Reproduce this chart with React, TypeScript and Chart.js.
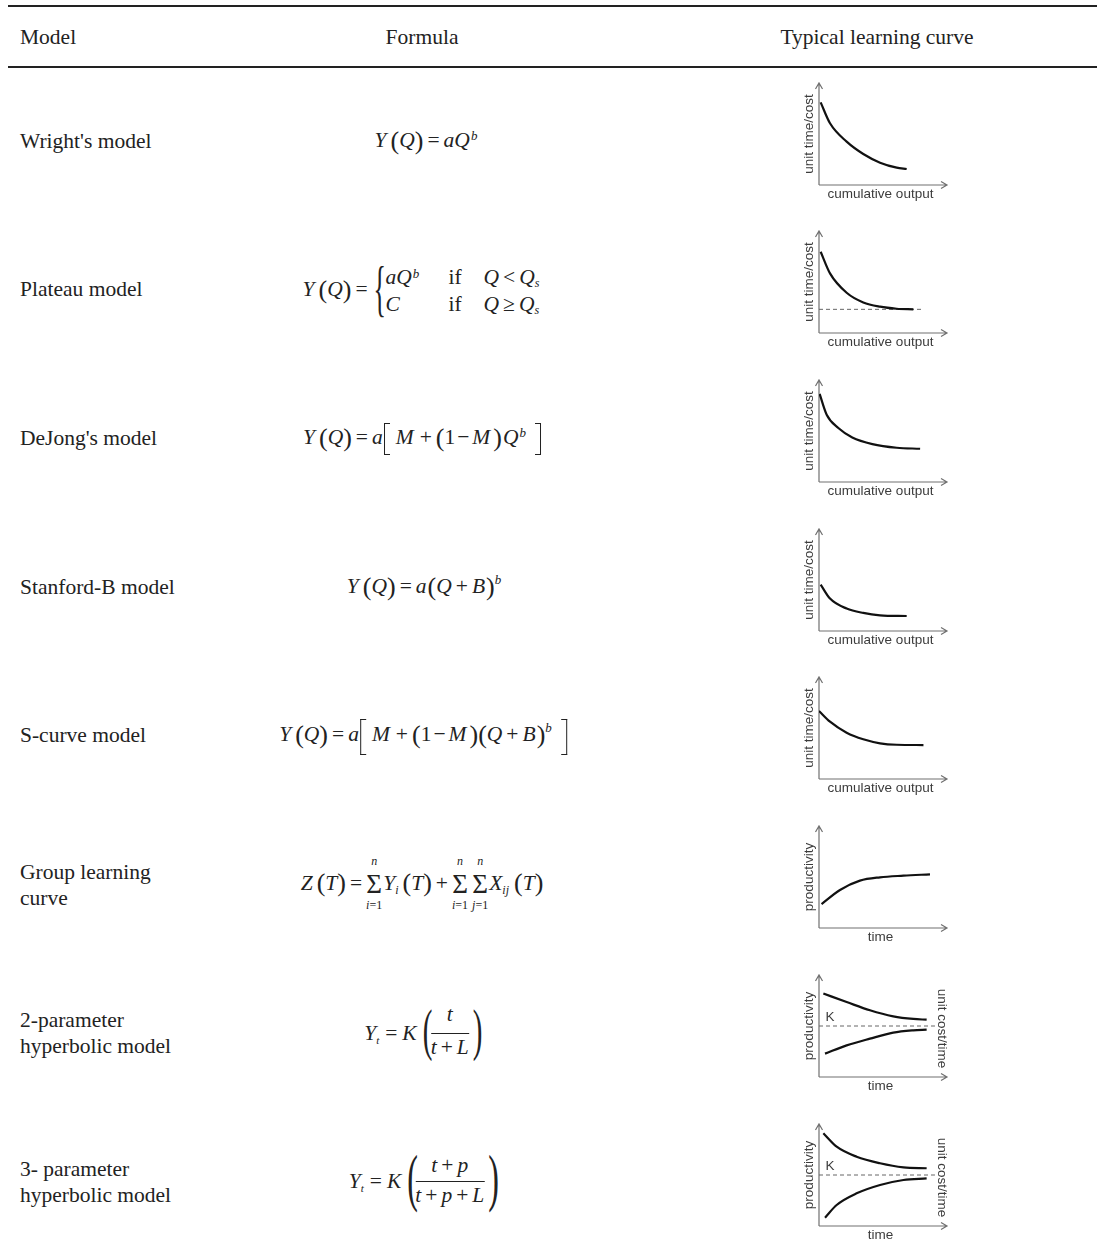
import React, { useEffect, useRef } from "react";
import { Chart, registerables } from "chart.js";

Chart.register(...registerables);

// ---------- DATA ----------
const headerLabels = ["Model", "Formula", "Typical learning curve"];
const modelLabels = [
  ["Wright's model"],
  ["Plateau model"],
  ["DeJong's model"],
  ["Stanford-B model"],
  ["S-curve model"],
  ["Group learning", "curve"],
  ["2-parameter", "hyperbolic model"],
  ["3- parameter", "hyperbolic model"],
];
const xAxisLabels = ["cumulative output", "cumulative output", "cumulative output", "cumulative output", "cumulative output", "time", "time", "time"];
const yAxisLabels = ["unit time/cost", "unit time/cost", "unit time/cost", "unit time/cost", "unit time/cost", "productivity", "productivity", "productivity"];
const rightAxisLabels = ["", "", "", "", "", "", "unit cost/time", "unit cost/time"];
const asymptoteLabels = ["", "", "", "", "", "", "K", "K"];

const wrightX = [0.13, 0.86, 2.16, 3.46, 4.77, 6.07, 6.85];
const wrightY = [8.1, 6.05, 4.25, 3.04, 2.19, 1.7, 1.57];

const plateauX = [0.13, 0.86, 2.16, 3.46, 4.77, 6.07, 7.37];
const plateauY = [7.97, 5.85, 3.95, 3.0, 2.58, 2.38, 2.32];
const plateauLevel = 2.32;
const plateauLevelSpan = [0, 8.1];

const dejongX = [0.05, 0.6, 1.51, 2.6, 4.17, 6.07, 7.9];
const dejongY = [8.63, 6.6, 5.29, 4.37, 3.72, 3.36, 3.26];

const stanfordX = [0.13, 0.86, 2.16, 3.46, 4.77, 6.85];
const stanfordY = [4.55, 3.18, 2.2, 1.77, 1.54, 1.47];

const scurveX = [0.0, 0.86, 2.16, 3.46, 4.77, 6.07, 8.16];
const scurveY = [6.67, 5.62, 4.54, 3.89, 3.5, 3.36, 3.33];

const groupX = [0.2, 1.64, 3.2, 4.77, 6.6, 8.67];
const groupY = [2.35, 3.73, 4.64, 4.97, 5.13, 5.26];

const hyp2UpperX = [0.34, 2.16, 3.98, 5.8, 7.37, 8.41];
const hyp2UpperY = [8.18, 7.35, 6.54, 5.95, 5.69, 5.62];
const hyp2LowerX = [0.47, 2.16, 3.98, 5.8, 7.37, 8.41];
const hyp2LowerY = [2.29, 3.1, 3.76, 4.35, 4.58, 4.65];

const hyp3UpperX = [0.34, 1.38, 2.94, 4.77, 6.6, 8.41];
const hyp3UpperY = [9.09, 7.77, 6.79, 6.15, 5.75, 5.66];
const hyp3LowerX = [0.47, 1.38, 2.94, 4.77, 6.6, 8.41];
const hyp3LowerY = [0.82, 2.06, 3.2, 4.02, 4.51, 4.67];

const kLevel = 5.0;
const kLevelSpan = [0, 9.06];

// ---------- STYLE ----------
const INK = "#222";
const SERIF = '"Liberation Serif", "Times New Roman", Times, serif';
const SANS = '"Liberation Sans", Arial, Helvetica, sans-serif';
const FS = 21.5;

// ---------- MINI CHART ----------
const miniAxesPlugin = {
  id: "miniAxes",
  beforeDatasetsDraw(chart: any, _args: any, opts: any) {
    const { ctx, chartArea: a } = chart;
    ctx.save();
    ctx.strokeStyle = "#707070";
    ctx.lineWidth = 1.2;
    ctx.beginPath();
    ctx.moveTo(a.left, a.bottom);
    ctx.lineTo(a.left, a.top);
    ctx.moveTo(a.left, a.bottom);
    ctx.lineTo(a.right, a.bottom);
    ctx.moveTo(a.left - 3.5, a.top + 6);
    ctx.lineTo(a.left, a.top);
    ctx.lineTo(a.left + 3.5, a.top + 6);
    ctx.moveTo(a.right - 6, a.bottom - 3.5);
    ctx.lineTo(a.right, a.bottom);
    ctx.lineTo(a.right - 6, a.bottom + 3.5);
    ctx.stroke();

    ctx.fillStyle = "#3c3c3c";
    ctx.font = `13.5px ${SANS}`;
    ctx.textAlign = "center";
    ctx.textBaseline = "middle";
    ctx.fillText(opts.xLabel, a.left + 61.5, a.bottom + 9);

    ctx.save();
    ctx.translate(a.left - 9.5, a.bottom - 51);
    ctx.rotate(-Math.PI / 2);
    ctx.fillText(opts.yLabel, 0, 0);
    ctx.restore();

    if (opts.rightLabel) {
      ctx.save();
      ctx.translate(a.right - 5, a.bottom - 48.5);
      ctx.rotate(Math.PI / 2);
      ctx.fillText(opts.rightLabel, 0, 0);
      ctx.restore();
    }
    if (opts.kLabel) {
      const yk = chart.scales.y.getPixelForValue(opts.kValue);
      ctx.textAlign = "left";
      ctx.fillText(opts.kLabel, a.left + 6.5, yk - 8.5);
    }
    ctx.restore();
  },
};

type Series = { x: number[]; y: number[] };
type MiniProps = {
  axisY: number;
  series: Series[];
  level?: { value: number; span: number[] };
  xLabel: string;
  yLabel: string;
  rightLabel?: string;
  kLabel?: string;
};

function MiniCurve({ axisY, series, level, xLabel, yLabel, rightLabel, kLabel }: MiniProps) {
  const ref = useRef<HTMLCanvasElement>(null);
  useEffect(() => {
    if (!ref.current) return;
    const datasets: any[] = series.map((s) => ({
      data: s.x.map((x, i) => ({ x, y: s.y[i] })),
      showLine: true,
      borderColor: "#111",
      borderWidth: 2.2,
      pointRadius: 0,
      fill: false,
      cubicInterpolationMode: "monotone",
    }));
    if (level) {
      datasets.push({
        data: [
          { x: level.span[0], y: level.value },
          { x: level.span[1], y: level.value },
        ],
        showLine: true,
        borderColor: "#666",
        borderWidth: 1,
        borderDash: [4, 3],
        pointRadius: 0,
        fill: false,
      });
    }
    const chart = new Chart(ref.current, {
      type: "scatter",
      data: { datasets },
      options: {
        responsive: false,
        animation: false,
        events: [],
        layout: { padding: { left: 29, right: 8, top: 23, bottom: 25 } },
        scales: {
          x: { type: "linear", min: 0, max: 10, display: false },
          y: { type: "linear", min: 0, max: 10, display: false },
        },
        plugins: {
          legend: { display: false },
          tooltip: { enabled: false },
          miniAxes: { xLabel, yLabel, rightLabel, kLabel, kValue: level ? level.value : 0 },
        } as any,
      },
      plugins: [miniAxesPlugin as any],
    });
    return () => chart.destroy();
  }, []);
  return (
    <canvas
      ref={ref}
      width={165}
      height={150}
      style={{ position: "absolute", left: 790, top: axisY - 125, width: 165, height: 150 }}
    />
  );
}

// ---------- FORMULA PIECES ----------
function Formula({ cx, cy, children }: { cx: number; cy: number; children: any }) {
  return (
    <div
      style={{
        position: "absolute",
        left: cx,
        top: cy,
        transform: "translate(-50%, -50%)",
        display: "flex",
        alignItems: "center",
        whiteSpace: "nowrap",
        fontFamily: SERIF,
        fontSize: FS,
        lineHeight: 1,
        color: INK,
      }}
    >
      {children}
    </div>
  );
}
const I = ({ c, ml = 0, mr = 0, children }: any) => (
  <span style={{ fontStyle: "italic", marginLeft: ml, marginRight: mr }}>
    {c}
    {children}
  </span>
);
const U = ({ c, ml = 0, mr = 0 }: any) => <span style={{ marginLeft: ml, marginRight: mr }}>{c}</span>;
const P = ({ c, ml = 0, mr = 0, children }: any) => (
  <span style={{ fontSize: 26, marginLeft: ml, marginRight: mr }}>
    {c}
    {children}
  </span>
);
const Sup = ({ c, r = 6, ml = 1 }: any) => (
  <span style={{ fontSize: 13, lineHeight: 0, fontStyle: "italic", position: "relative", top: -r, marginLeft: ml }}>{c}</span>
);
const Sub = ({ c, d = 4, ml = 0, fs = 12 }: any) => (
  <span style={{ fontSize: fs, lineHeight: 0, fontStyle: "italic", position: "relative", top: d, marginLeft: ml }}>{c}</span>
);
const Bracket = ({ side, h = 32, dy = 1, ml = 0, mr = 0 }: any) => (
  <span
    style={{
      display: "inline-block",
      width: 6,
      height: h,
      boxSizing: "border-box",
      borderTop: `1.2px solid ${INK}`,
      borderBottom: `1.2px solid ${INK}`,
      borderLeft: side === "l" ? `1.2px solid ${INK}` : "none",
      borderRight: side === "r" ? `1.2px solid ${INK}` : "none",
      position: "relative",
      top: dy,
      marginLeft: ml,
      marginRight: mr,
    }}
  />
);
const BigP = ({ c, fs = 58, dy = -3.8, ml = 0, mr = 0 }: any) => (
  <span
    style={{
      display: "inline-block",
      width: 10,
      fontSize: fs,
      lineHeight: 1,
      transform: "scaleX(0.5)",
      transformOrigin: "center",
      position: "relative",
      top: dy,
      marginLeft: ml,
      marginRight: mr,
    }}
  >
    {c}
  </span>
);
const Frac = ({ num, den, gapTop = 7.5, gapBot = 2.7 }: any) => {
  const boxH = FS;
  const total = boxH + gapTop + 1 + gapBot + boxH;
  const barC = boxH + gapTop + 0.5;
  const shift = -(barC - total / 2);
  return (
    <span
      style={{
        display: "inline-flex",
        flexDirection: "column",
        alignItems: "center",
        position: "relative",
        top: shift,
        padding: "0 1px",
      }}
    >
      <span style={{ lineHeight: 1, height: boxH }}>{num}</span>
      <span style={{ height: 1, alignSelf: "stretch", background: INK, marginTop: gapTop, marginBottom: gapBot }} />
      <span style={{ lineHeight: 1, height: boxH }}>{den}</span>
    </span>
  );
};
const Sum = ({ top, bottom, ml = 0, mr = 0 }: any) => (
  <span
    style={{
      display: "inline-flex",
      flexDirection: "column",
      alignItems: "center",
      marginLeft: ml,
      marginRight: mr,
      position: "relative",
      top: 0.5,
    }}
  >
    <span style={{ fontSize: 12, lineHeight: "13.5px", fontStyle: "italic", marginBottom: 5 }}>{top}</span>
    <span style={{ fontSize: 27, lineHeight: "20px" }}>Σ</span>
    <span style={{ fontSize: 12, lineHeight: "13.5px", marginTop: 5 }}>{bottom}</span>
  </span>
);
const YQ = () => (
  <>
    <I c="Y" />
    <P c="(" ml={4} />
    <I c="Q" />
    <P c=")" />
    <U c="=" ml={4} mr={4} />
  </>
);

// ---------- LAYOUT ----------
const labelBaselines = [148, 296.6, 445.2, 593.8, 742.4, 879, 1027, 1176];
const axisYs = [185, 333, 482, 631, 779, 928, 1077, 1226];

export default function App() {
  const lineTop = (baseline: number) => baseline - 20.26;
  const textStyle: any = {
    position: "absolute",
    fontFamily: SERIF,
    fontSize: FS,
    lineHeight: "26px",
    color: INK,
    whiteSpace: "nowrap",
  };

  const miniCharts: MiniProps[] = [
    { axisY: axisYs[0], series: [{ x: wrightX, y: wrightY }], xLabel: xAxisLabels[0], yLabel: yAxisLabels[0] },
    {
      axisY: axisYs[1],
      series: [{ x: plateauX, y: plateauY }],
      level: { value: plateauLevel, span: plateauLevelSpan },
      xLabel: xAxisLabels[1],
      yLabel: yAxisLabels[1],
    },
    { axisY: axisYs[2], series: [{ x: dejongX, y: dejongY }], xLabel: xAxisLabels[2], yLabel: yAxisLabels[2] },
    { axisY: axisYs[3], series: [{ x: stanfordX, y: stanfordY }], xLabel: xAxisLabels[3], yLabel: yAxisLabels[3] },
    { axisY: axisYs[4], series: [{ x: scurveX, y: scurveY }], xLabel: xAxisLabels[4], yLabel: yAxisLabels[4] },
    { axisY: axisYs[5], series: [{ x: groupX, y: groupY }], xLabel: xAxisLabels[5], yLabel: yAxisLabels[5] },
    {
      axisY: axisYs[6],
      series: [
        { x: hyp2UpperX, y: hyp2UpperY },
        { x: hyp2LowerX, y: hyp2LowerY },
      ],
      level: { value: kLevel, span: kLevelSpan },
      xLabel: xAxisLabels[6],
      yLabel: yAxisLabels[6],
      rightLabel: rightAxisLabels[6],
      kLabel: asymptoteLabels[6],
    },
    {
      axisY: axisYs[7],
      series: [
        { x: hyp3UpperX, y: hyp3UpperY },
        { x: hyp3LowerX, y: hyp3LowerY },
      ],
      level: { value: kLevel, span: kLevelSpan },
      xLabel: xAxisLabels[7],
      yLabel: yAxisLabels[7],
      rightLabel: rightAxisLabels[7],
      kLabel: asymptoteLabels[7],
    },
  ];

  return (
    <div
      style={{
        position: "absolute",
        left: 0,
        top: 0,
        width: 1097,
        height: 1251,
        overflow: "hidden",
        background: "#fff",
      }}
    >
      {/* rules */}
      <div style={{ position: "absolute", left: 8, right: 0, top: 5, height: 2, background: INK }} />
      <div style={{ position: "absolute", left: 8, right: 0, top: 66, height: 2, background: INK }} />

      {/* header */}
      <div style={{ ...textStyle, left: 20, top: lineTop(44) }}>{headerLabels[0]}</div>
      <div style={{ ...textStyle, left: 422, top: lineTop(44), transform: "translateX(-50%)" }}>{headerLabels[1]}</div>
      <div style={{ ...textStyle, left: 877, top: lineTop(44), transform: "translateX(-50%)" }}>{headerLabels[2]}</div>

      {/* model names */}
      {modelLabels.map((lines, i) => (
        <div key={i} style={{ ...textStyle, left: 20, top: lineTop(labelBaselines[i]) }}>
          {lines.map((l, j) => (
            <div key={j}>{l}</div>
          ))}
        </div>
      ))}

      {/* formulas */}
      <Formula cx={426} cy={140.75}>
        <YQ />
        <I c="a" />
        <I c="Q">
          <Sup c="b" r={7} />
        </I>
      </Formula>

      <Formula cx={421} cy={289.5}>
        <YQ />
        <span
          style={{
            display: "inline-block",
            width: 12,
            fontSize: 62,
            lineHeight: 1,
            transform: "scaleX(0.42)",
            transformOrigin: "left center",
            position: "relative",
            top: -1.8,
            marginLeft: 2,
          }}
        >
          {"{"}
        </span>
        <div
          style={{
            display: "grid",
            gridTemplateColumns: "63px 35px auto",
            lineHeight: "26.7px",
            marginLeft: 0,
            position: "relative",
            top: 1.6,
          }}
        >
          <span>
            <I c="a" />
            <I c="Q">
              <Sup c="b" r={6} />
            </I>
          </span>
          <span>if</span>
          <span>
            <I c="Q" />
            <span style={{ margin: "0 4px" }}>&lt;</span>
            <I c="Q">
              <Sub c="s" d={3} />
            </I>
          </span>
          <span>
            <I c="C" />
          </span>
          <span>if</span>
          <span>
            <I c="Q" />
            <span style={{ margin: "0 4px" }}>≥</span>
            <I c="Q">
              <Sub c="s" d={3} />
            </I>
          </span>
        </div>
      </Formula>

      <Formula cx={422} cy={437.9}>
        <YQ />
        <I c="a" />
        <Bracket side="l" h={32} dy={1.2} ml={1} />
        <I c="M" ml={6} />
        <U c="+" ml={6} mr={4} />
        <P c="(" />
        <U c="1" />
        <U c="−" ml={2} mr={3} />
        <I c="M" />
        <P c=")" ml={3} />
        <I c="Q" ml={1}>
          <Sup c="b" r={7} />
        </I>
        <Bracket side="r" h={32} dy={1.2} ml={9} />
      </Formula>

      <Formula cx={424} cy={586.5}>
        <YQ />
        <I c="a" />
        <P c="(" ml={1} />
        <I c="Q" />
        <U c="+" ml={4} mr={4} />
        <I c="B" />
        <P c=")" ml={1}>
          <Sup c="b" r={11} ml={0} />
        </P>
      </Formula>

      <Formula cx={423} cy={735.1}>
        <YQ />
        <I c="a" />
        <Bracket side="l" h={36} dy={1.5} ml={1} />
        <I c="M" ml={6} />
        <U c="+" ml={6} mr={4} />
        <P c="(" />
        <U c="1" />
        <U c="−" ml={2} mr={3} />
        <I c="M" />
        <P c=")" ml={3} />
        <P c="(" />
        <I c="Q" />
        <U c="+" ml={4} mr={4} />
        <I c="B" />
        <P c=")" ml={1}>
          <Sup c="b" r={11} ml={0} />
        </P>
        <Bracket side="r" h={36} dy={1.5} ml={9} />
      </Formula>

      <Formula cx={422} cy={882.75}>
        <I c="Z" />
        <P c="(" ml={4} />
        <I c="T" />
        <P c=")" />
        <U c="=" ml={4} mr={4} />
        <Sum top="n" bottom={<><i>i</i>=1</>} />
        <I c="Y" ml={1}>
          <Sub c="i" d={4} />
        </I>
        <P c="(" ml={4} />
        <I c="T" />
        <P c=")" />
        <U c="+" ml={4} mr={4} />
        <Sum top="n" bottom={<><i>i</i>=1</>} mr={2} />
        <Sum top="n" bottom={<><i>j</i>=1</>} ml={2} />
        <I c="X" ml={1}>
          <Sub c="ij" d={4} />
        </I>
        <P c="(" ml={5} />
        <I c="T" />
        <P c=")" />
      </Formula>

      <Formula cx={422} cy={1033.3}>
        <I c="Y">
          <Sub c="t" d={4} fs={11} />
        </I>
        <U c="=" ml={6} mr={5} />
        <I c="K" />
        <BigP c="(" fs={58} dy={-3.8} ml={3} />
        <Frac num={<I c="t" />} den={<><I c="t" /><U c="+" ml={4} mr={4} /><I c="L" /></>} gapTop={7.5} gapBot={2.7} />
        <BigP c=")" fs={58} dy={-3.8} />
      </Formula>

      <Formula cx={422} cy={1181.7}>
        <I c="Y">
          <Sub c="t" d={4} fs={11} />
        </I>
        <U c="=" ml={6} mr={5} />
        <I c="K" />
        <BigP c="(" fs={64} dy={-4.2} ml={3} />
        <Frac
          num={<><I c="t" /><U c="+" ml={4} mr={4} /><I c="p" /></>}
          den={<><I c="t" /><U c="+" ml={4} mr={4} /><I c="p" /><U c="+" ml={4} mr={4} /><I c="L" /></>}
          gapTop={4.5}
          gapBot={2.7}
        />
        <BigP c=")" fs={64} dy={-4.2} />
      </Formula>

      {/* mini charts */}
      {miniCharts.map((m, i) => (
        <MiniCurve key={i} {...m} />
      ))}
    </div>
  );
}
